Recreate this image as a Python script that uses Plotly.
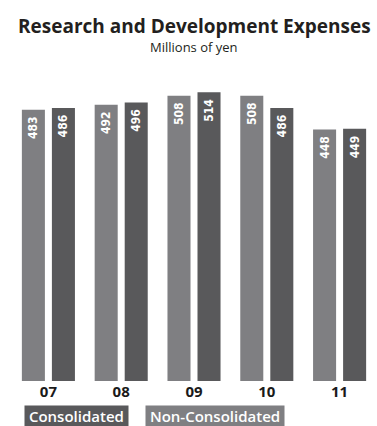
import plotly.graph_objects as go

# Fiscal years and R&D expenses (millions of yen)
years = ["07", "08", "09", "10", "11"]
non_consolidated = [483, 492, 508, 508, 448]
consolidated = [486, 496, 514, 486, 449]

LIGHT = "#7f7f82"
DARK = "#59595b"
LABEL_FONT = dict(family="DejaVu Sans Condensed, Liberation Sans Narrow, sans-serif",
                  size=12, color="white", weight="bold")
KEY_FONT = dict(family="Open Sans, sans-serif", size=15, color="white", weight=600)

fig = go.Figure()
for name, vals, col in [("Non-Consolidated", non_consolidated, LIGHT),
                        ("Consolidated", consolidated, DARK)]:
    fig.add_trace(go.Bar(
        x=years, y=vals, name=name,
        marker=dict(color=col, line=dict(width=0)),
        text=[str(v) for v in vals],
        texttemplate="%{text}\u00a0",
        textposition="inside", insidetextanchor="end", textangle=-90,
        textfont=LABEL_FONT, cliponaxis=False,
    ))

fig.update_layout(
    width=377, height=426,
    margin=dict(l=12, r=1, t=89, b=45),
    paper_bgcolor="white", plot_bgcolor="white",
    barmode="group", bargap=0.175, bargroupgap=0.233,
    showlegend=False,
    xaxis=dict(
        type="category", range=[-0.5, 4.5], showgrid=False, zeroline=False,
        showline=False, ticks="", ticklabelstandoff=0,
        tickfont=dict(family="Open Sans, sans-serif", size=15, color="#1a1a1a", weight="bold"),
    ),
    yaxis=dict(range=[0, 520], visible=False, fixedrange=True),
    annotations=[
        dict(text="<b>Research and Development Expenses</b>", xref="paper", yref="paper",
             x=0.5, y=1, yshift=63, xanchor="center", yanchor="middle", showarrow=False,
             font=dict(family="Open Sans, sans-serif", size=19, color="#231f20")),
        dict(text="Millions of yen", xref="paper", yref="paper",
             x=0.5, y=1, yshift=42, xanchor="center", yanchor="middle", showarrow=False,
             font=dict(family="Open Sans, sans-serif", size=13, color="#231f20")),
        dict(text="\u00a0Consolidated\u00a0", xref="paper", yref="paper",
             x=0.033, y=0, yshift=-35, xanchor="left", yanchor="middle", showarrow=False,
             bgcolor=DARK, borderpad=0, font=KEY_FONT),
        dict(text="\u00a0Non-Consolidated\u00a0", xref="paper", yref="paper",
             x=0.366, y=0, yshift=-35, xanchor="left", yanchor="middle", showarrow=False,
             bgcolor=LIGHT, borderpad=0, font=KEY_FONT),
    ],
)

fig.write_html("out.html")
